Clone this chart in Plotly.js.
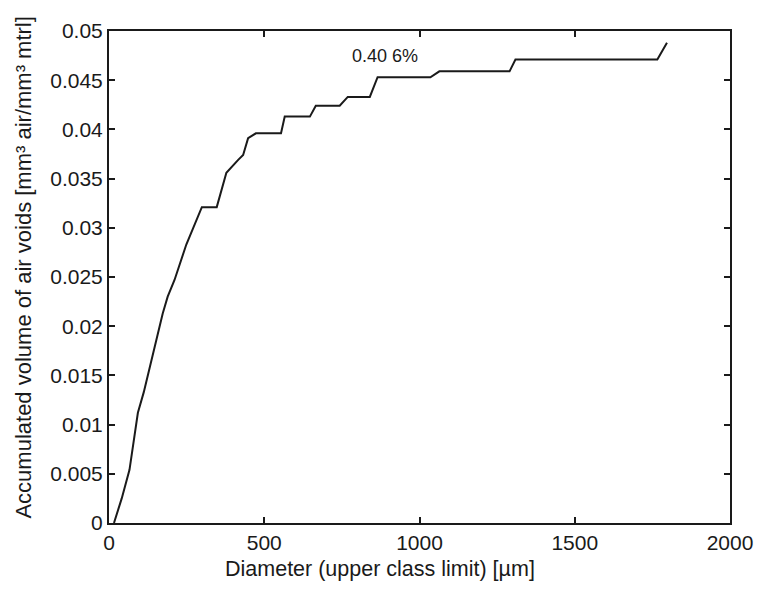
<!DOCTYPE html>
<html>
<head>
<meta charset="utf-8">
<script src="https://cdn.plot.ly/plotly-3.0.1.min.js"></script>
<style>html,body{margin:0;padding:0;background:#fff;}#chart{width:757px;height:589px;}</style>
</head>
<body>
<div id="chart"></div>
<script>
// Diameter (upper class limit) [µm]
const diameter = [16, 41, 66, 93, 112, 173, 189, 211, 249, 299, 347, 378, 416, 432, 448, 473, 554, 566, 647, 666, 743, 769, 840, 865, 1035, 1064, 1290, 1309, 1766, 1797];
// Accumulated volume of air voids [mm³ air/mm³ mtrl]
const volume   = [0, 0.0025, 0.0054, 0.0112, 0.0133, 0.0213, 0.0230, 0.0247, 0.0283, 0.0321, 0.0321, 0.0356, 0.0369, 0.0374, 0.0391, 0.0396, 0.0396, 0.0413, 0.0413, 0.0424, 0.0424, 0.0433, 0.0433, 0.0453, 0.0453, 0.0459, 0.0459, 0.0471, 0.0471, 0.0488];

const xTickVals = [0, 500, 1000, 1500, 2000];
const xTickText = ["0", "500", "1000", "1500", "2000"];
const yTickVals = [0, 0.005, 0.01, 0.015, 0.02, 0.025, 0.03, 0.035, 0.04, 0.045, 0.05];
const yTickText = ["0", "0.005", "0.01", "0.015", "0.02", "0.025", "0.03", "0.035", "0.04", "0.045", "0.05"];

const xTitle = "Diameter (upper class limit) [µm]";
const yTitle = "Accumulated volume of air voids [mm³ air/mm³ mtrl]";
const annotationText = "0.40 6%";
const annotationX = 889;
const annotationY = 0.0475;

const font = "Liberation Sans, Arial, Helvetica, sans-serif";
const ink = "#1a1a1a";

const trace = {
  x: diameter,
  y: volume,
  type: "scatter",
  mode: "lines",
  line: {color: ink, width: 2},
  hoverinfo: "skip"
};

const axisCommon = {
  showgrid: false,
  zeroline: false,
  showline: true,
  linecolor: ink,
  linewidth: 2,
  mirror: "ticks",
  ticks: "inside",
  ticklen: 6,
  tickwidth: 2,
  tickcolor: ink,
  tickfont: {family: font, size: 21, color: ink}
};

const layout = {
  width: 757,
  height: 589,
  paper_bgcolor: "#fff",
  plot_bgcolor: "#fff",
  showlegend: false,
  margin: {l: 109, r: 27, t: 31, b: 66},
  xaxis: Object.assign({}, axisCommon, {
    range: [0, 2000],
    tickmode: "array",
    tickvals: xTickVals,
    ticktext: xTickText
  }),
  yaxis: Object.assign({}, axisCommon, {
    range: [0, 0.05],
    tickmode: "array",
    tickvals: yTickVals,
    ticktext: yTickText
  }),
  annotations: [{
    x: annotationX, y: annotationY, xref: "x", yref: "y",
    text: annotationText, showarrow: false,
    font: {family: font, size: 18, color: ink}
  }, {
    x: 0.436, y: -0.0935, xref: "paper", yref: "paper",
    xanchor: "center", yanchor: "middle",
    text: xTitle, showarrow: false,
    font: {family: font, size: 21.5, color: ink}
  }, {
    x: -0.137, y: 0.519, xref: "paper", yref: "paper",
    xanchor: "center", yanchor: "middle", textangle: -90,
    text: yTitle, showarrow: false,
    font: {family: font, size: 22, color: ink}
  }]
};

Plotly.newPlot("chart", [trace], layout, {staticPlot: true, displayModeBar: false});
</script>
</body>
</html>
